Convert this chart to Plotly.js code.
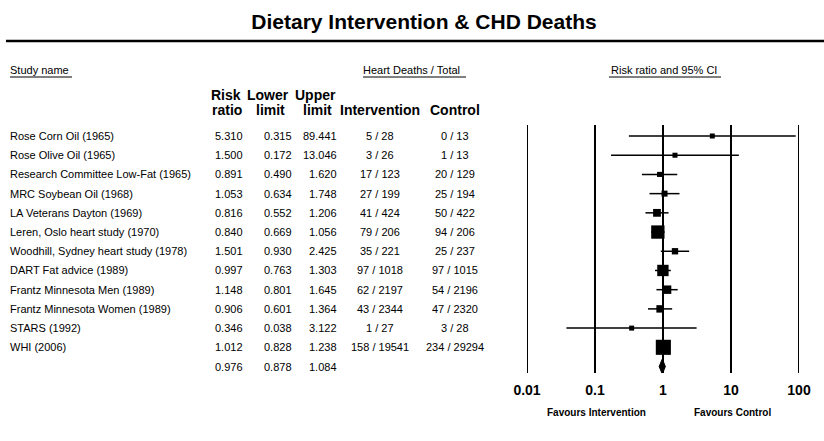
<!DOCTYPE html>
<html>
<head>
<meta charset="utf-8">
<script src="https://cdn.plot.ly/plotly-3.0.1.min.js"></script>
<style>html,body{margin:0;padding:0;background:#fff;}</style>
</head>
<body>
<div id="chart" style="width:824px;height:441px;"></div>
<script>
// ---------------- data ----------------
const studies = [
  'Rose Corn Oil (1965)',
  'Rose Olive Oil (1965)',
  'Research Committee Low-Fat (1965)',
  'MRC Soybean Oil (1968)',
  'LA Veterans Dayton (1969)',
  'Leren, Oslo heart study (1970)',
  'Woodhill, Sydney heart study (1978)',
  'DART Fat advice (1989)',
  'Frantz Minnesota Men (1989)',
  'Frantz Minnesota Women (1989)',
  'STARS (1992)',
  'WHI (2006)'
];
const riskRatio  = [5.310, 1.500, 0.891, 1.053, 0.816, 0.840, 1.501, 0.997, 1.148, 0.906, 0.346, 1.012];
const lowerLimit = [0.315, 0.172, 0.490, 0.634, 0.552, 0.669, 0.930, 0.763, 0.801, 0.601, 0.038, 0.828];
const upperLimit = [89.441, 13.046, 1.620, 1.748, 1.206, 1.056, 2.425, 1.303, 1.645, 1.364, 3.122, 1.238];
const interventionDeaths = [5, 3, 17, 27, 41, 79, 35, 97, 62, 43, 1, 158];
const interventionTotal  = [28, 26, 123, 199, 424, 206, 221, 1018, 2197, 2344, 27, 19541];
const controlDeaths = [0, 1, 20, 25, 50, 94, 25, 97, 54, 47, 3, 234];
const controlTotal  = [13, 13, 129, 194, 422, 206, 237, 1015, 2196, 2320, 28, 29294];
const pooled = {rr: 0.976, lower: 0.878, upper: 1.084};
const tickValues = [0.01, 0.1, 1, 10, 100];
const tickLabels = ['0.01', '0.1', '1', '10', '100'];

// ---------------- layout helpers ----------------
const W = 824, H = 441;
const FONT = 'Arial, "Liberation Sans", sans-serif';
const px = x => x / W;
const py = y => 1 - y / H;
const rowTop = 136, rowStep = 19.21, axisBottom = 373;
const rows = studies.map((_, i) => i);
const pooledRow = studies.length;

function ann(text, x, y, o) {
  o = o || {};
  return {
    text: text, x: px(x), xref: 'paper',
    y: o.yref === 'y' ? y : py(y), yref: o.yref || 'paper',
    xanchor: o.xanchor || 'left', yanchor: 'middle',
    showarrow: false, borderpad: 0, borderwidth: 0,
    font: {family: FONT, size: o.size || 11, color: '#000', weight: o.bold ? 'bold' : 'normal'}
  };
}

const annotations = [];
// section headers
annotations.push(ann('Study name', 10, 70));
annotations.push(ann('Heart Deaths / Total', 363, 70));
annotations.push(ann('Risk ratio and 95% CI', 664, 70, {xanchor: 'center'}));
// column headers
const hb = {bold: true, size: 14, xanchor: 'center'};
annotations.push(ann('Risk', 226, 94.5, hb));
annotations.push(ann('Lower', 268, 94.5, hb));
annotations.push(ann('Upper', 315, 94.5, hb));
annotations.push(ann('ratio', 227, 110, hb));
annotations.push(ann('limit', 270, 110, hb));
annotations.push(ann('limit', 317.5, 110, hb));
annotations.push(ann('Intervention', 380, 110, hb));
annotations.push(ann('Control', 455, 110, hb));

// study rows
const fmt = v => v.toFixed(3);
rows.forEach(i => {
  annotations.push(ann(studies[i], 10, i, {yref: 'y'}));
  annotations.push(ann(fmt(riskRatio[i]), 243, i, {yref: 'y', xanchor: 'right'}));
  annotations.push(ann(fmt(lowerLimit[i]), 292, i, {yref: 'y', xanchor: 'right'}));
  annotations.push(ann(fmt(upperLimit[i]), 337, i, {yref: 'y', xanchor: 'right'}));
  annotations.push(ann(interventionDeaths[i] + ' / ' + interventionTotal[i], 380, i, {yref: 'y', xanchor: 'center'}));
  annotations.push(ann(controlDeaths[i] + ' / ' + controlTotal[i], 455, i, {yref: 'y', xanchor: 'center'}));
});
// pooled row
annotations.push(ann(fmt(pooled.rr), 243, pooledRow, {yref: 'y', xanchor: 'right'}));
annotations.push(ann(fmt(pooled.lower), 292, pooledRow, {yref: 'y', xanchor: 'right'}));
annotations.push(ann(fmt(pooled.upper), 337, pooledRow, {yref: 'y', xanchor: 'right'}));

// favours labels
annotations.push(ann('Favours Intervention', 596, 412, {bold: true, size: 10, xanchor: 'center'}));
annotations.push(ann('Favours Control', 732, 412, {bold: true, size: 10, xanchor: 'center'}));

// ---------------- shapes ----------------
const shapes = [];
shapes.push({type: 'line', xref: 'paper', yref: 'paper', x0: px(6), x1: px(824), y0: py(41), y1: py(41),
  line: {color: '#000', width: 2.5}});
[[10, 72], [363, 466], [609, 721]].forEach(([a, b]) => {
  shapes.push({type: 'line', xref: 'paper', yref: 'paper', x0: px(a), x1: px(b), y0: py(77), y1: py(77),
    line: {color: '#000', width: 1}});
});
tickValues.forEach(v => {
  shapes.push({type: 'line', xref: 'x', yref: 'paper', x0: v, x1: v, y0: py(axisBottom), y1: py(125),
    line: {color: '#000', width: 2}, layer: 'below'});
});

// ---------------- traces ----------------
// box side proportional to 1/SE (derived from the CI), with a minimum size
const boxSize = rows.map(i => {
  const se = (Math.log(upperLimit[i]) - Math.log(lowerLimit[i])) / 3.92;
  return Math.max(5, 1.55 / se);
});

const studyTrace = {
  type: 'scatter', mode: 'markers',
  x: riskRatio, y: rows,
  marker: {symbol: 'square', size: boxSize, color: '#000', opacity: 1, line: {width: 0}},
  error_x: {
    type: 'data', symmetric: false,
    array: rows.map(i => upperLimit[i] - riskRatio[i]),
    arrayminus: rows.map(i => riskRatio[i] - lowerLimit[i]),
    width: 0, thickness: 1.5, color: '#000'
  },
  cliponaxis: false, hoverinfo: 'skip'
};

const dh = 0.39;
const diamond = {
  type: 'scatter', mode: 'lines',
  x: [pooled.lower, pooled.rr, pooled.upper, pooled.rr, pooled.lower],
  y: [pooledRow, pooledRow - dh, pooledRow, pooledRow + dh, pooledRow],
  fill: 'toself', fillcolor: '#000', line: {color: '#000', width: 1},
  cliponaxis: false, hoverinfo: 'skip'
};

const layout = {
  width: W, height: H,
  margin: {l: 0, r: 0, t: 0, b: 0},
  paper_bgcolor: '#fff', plot_bgcolor: 'rgba(0,0,0,0)',
  showlegend: false,
  title: {
    text: '<b>Dietary Intervention & CHD Deaths</b>',
    x: px(424), xanchor: 'center', xref: 'paper',
    y: py(22), yanchor: 'middle', yref: 'paper',
    font: {family: FONT, size: 21, color: '#000'}
  },
  xaxis: {
    type: 'log', range: [-2, 2], domain: [px(527), px(799)],
    tickvals: tickValues, ticktext: tickLabels,
    tickfont: {family: FONT, size: 14, color: '#000', weight: 'bold'},
    ticks: '', ticklabelstandoff: 7, showgrid: false, zeroline: false, showline: false,
    fixedrange: true
  },
  yaxis: {
    range: [(axisBottom - rowTop) / rowStep, -rowTop / rowStep],
    domain: [py(axisBottom), 1],
    visible: false, fixedrange: true
  },
  annotations: annotations,
  shapes: shapes
};

Plotly.newPlot('chart', [studyTrace, diamond], layout, {staticPlot: true, displayModeBar: false});
</script>
</body>
</html>
